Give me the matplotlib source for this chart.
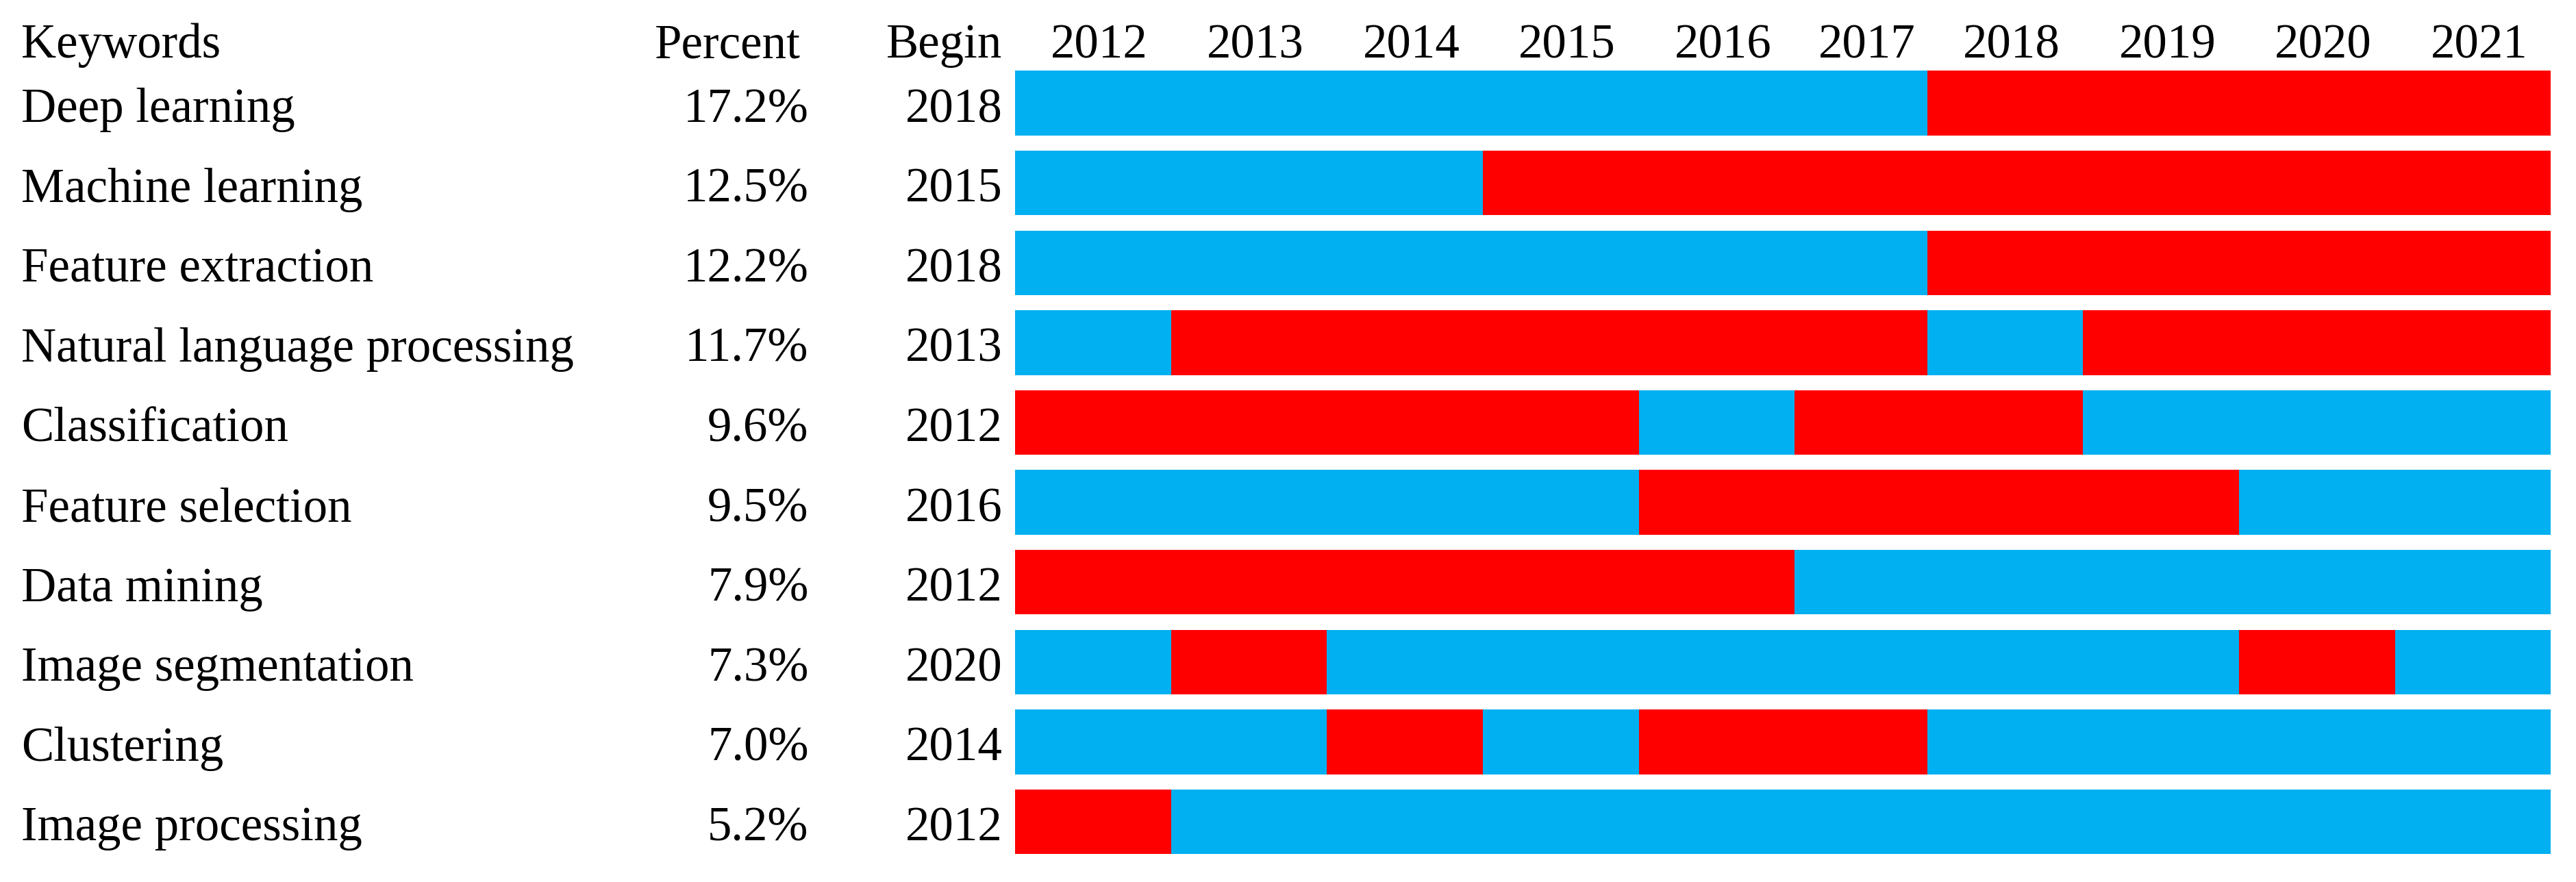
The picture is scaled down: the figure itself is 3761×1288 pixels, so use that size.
import matplotlib
matplotlib.use("Agg")
import matplotlib.pyplot as plt
import matplotlib.transforms as mtransforms
import numpy as np

plt.rcParams['font.family'] = ['Liberation Serif', 'DejaVu Serif']

# data
keywords = ["Deep learning", "Machine learning", "Feature extraction",
            "Natural language processing", "Classification", "Feature selection",
            "Data mining", "Image segmentation", "Clustering", "Image processing"]
percent = ["17.2%", "12.5%", "12.2%", "11.7%", "9.6%", "9.5%", "7.9%", "7.3%", "7.0%", "5.2%"]
begin = [2018, 2015, 2018, 2013, 2012, 2016, 2012, 2020, 2014, 2012]
years = list(range(2012, 2022))
# B = blue, R = red, one letter per year
states = ["BBBBBBRRRR",
          "BBBRRRRRRR",
          "BBBBBBRRRR",
          "BRRRRRBRRR",
          "RRRRBRRBBB",
          "BBBBRRRRBB",
          "RRRRRBBBBB",
          "BRBBBBBBRB",
          "BBRBRRBBBB",
          "RBBBBBBBBB"]
# the 2017 column is drawn a bit narrower in the original
col_width = [1, 1, 1, 1, 1, 0.85, 1, 1, 1, 1]

colors = {"B": "#00B0F0", "R": "#FF0000"}
FS = 51

fig = plt.figure(figsize=(37.62, 12.88), dpi=100)
ax = fig.add_axes([0.394, 0.0317, 0.596, 0.888])

edges = np.concatenate([[0], np.cumsum(col_width)])
for i, s in enumerate(states):
    # merge runs of the same colour into one bar
    j = 0
    while j < len(s):
        k = j
        while k < len(s) and s[k] == s[j]:
            k += 1
        ax.barh(i, edges[k] - edges[j], left=edges[j], height=0.81,
                color=colors[s[j]], linewidth=0)
        j = k

ax.set_xlim(0, edges[-1])
ax.set_ylim(len(states) - 1 + 0.405, -0.405)
ax.axis('off')
centers = (edges[:-1] + edges[1:]) / 2

trans = mtransforms.blended_transform_factory(fig.transFigure, ax.transData)
base = 0.236
head = base - 0.807
for c, y in zip(centers, years):
    ax.text(c + 0.04, head, str(y), fontsize=FS, va='baseline', ha='center', clip_on=False)
ax.text(0.0083, head, "Keywords", transform=trans, fontsize=FS, va='baseline', ha='left')
ax.text(0.3106, head, "Percent", transform=trans, fontsize=FS, va='baseline', ha='right')
ax.text(0.389, head, "Begin", transform=trans, fontsize=FS, va='baseline', ha='right')
for i in range(len(keywords)):
    ax.text(0.0083, i + base, keywords[i], transform=trans, fontsize=FS, va='baseline', ha='left')
    ax.text(0.3138, i + base, percent[i], transform=trans, fontsize=FS, va='baseline', ha='right')
    ax.text(0.389, i + base, str(begin[i]), transform=trans, fontsize=FS, va='baseline', ha='right')

fig.savefig("out.png", dpi=100)
